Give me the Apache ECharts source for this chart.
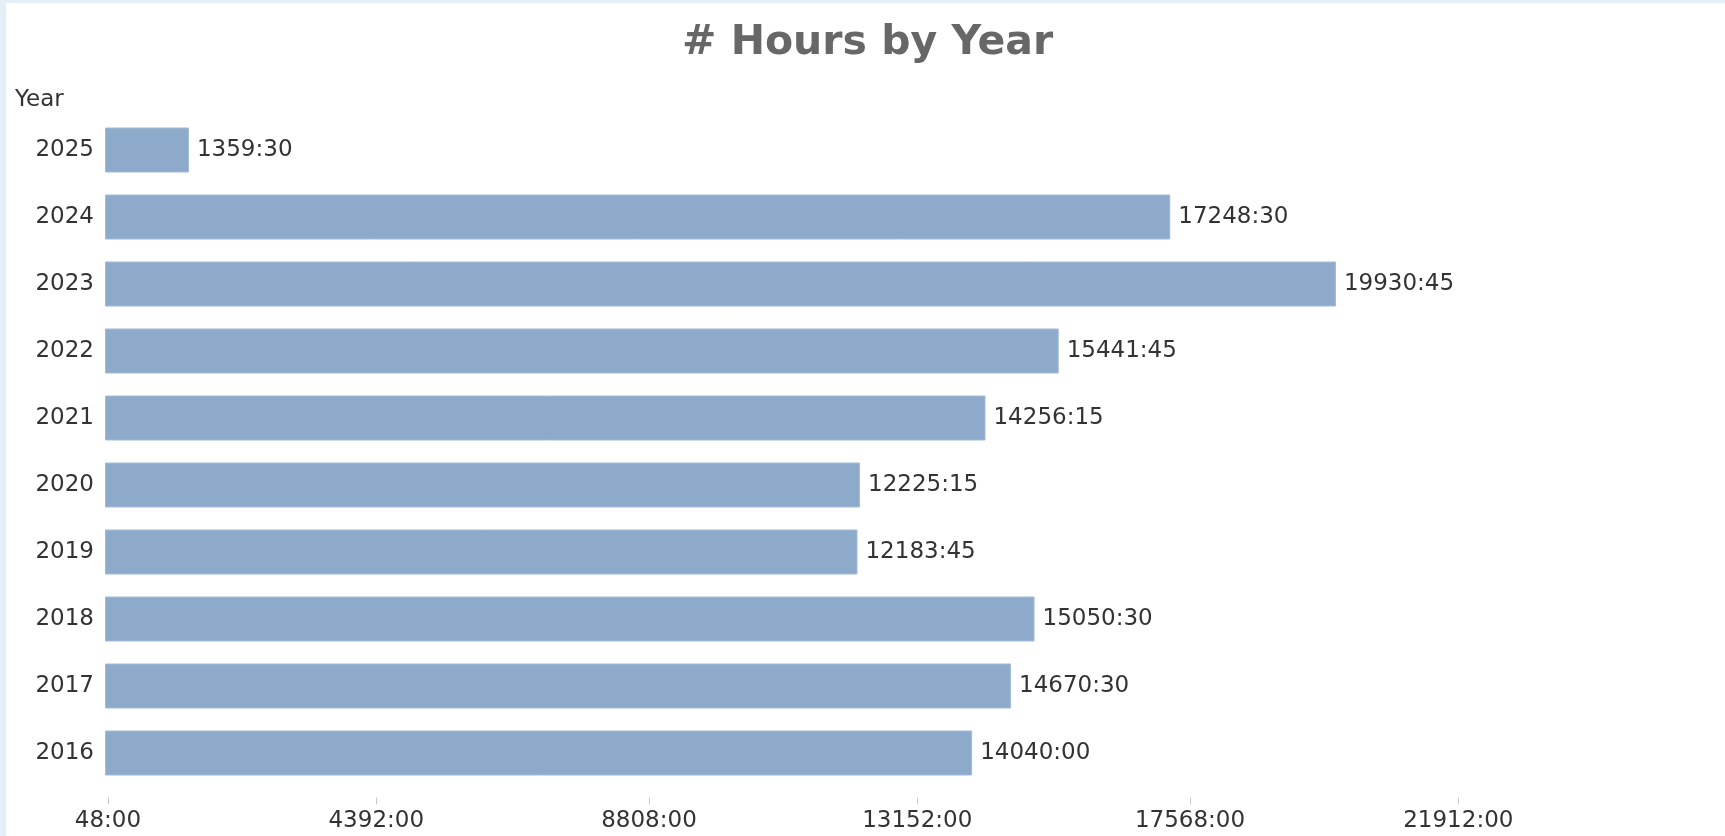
<!DOCTYPE html>
<html>
<head>
<meta charset="utf-8">
<script src="https://cdn.jsdelivr.net/npm/echarts@6/dist/echarts.min.js"></script>
<style>
html,body{margin:0;padding:0;background:#fff;}
#chart{width:1725px;height:836px;}
</style>
</head>
<body>
<div id="chart"></div>
<script>
// Data
const years = ['2016', '2017', '2018', '2019', '2020', '2021', '2022', '2023', '2024', '2025'];
const hours = [14040, 14670.5, 15050.5, 12183.75, 12225.25, 14256.25, 15441.75, 19930.75, 17248.5, 1359.5];
const tickValues = [48, 4392, 8808, 13152, 17568, 21912];

function fmtHours(v) {
  const h = Math.floor(v + 1e-9);
  const m = Math.round((v - h) * 60);
  return h + ':' + (m < 10 ? '0' + m : m);
}

const chart = echarts.init(document.getElementById('chart'), null, {renderer: 'canvas'});
const labelFont = 'DejaVu Sans';
chart.setOption({
  animation: false,
  backgroundColor: '#ffffff',
  graphic: [
    {type: 'rect', left: 0, top: 0, shape: {width: 6, height: 836}, style: {fill: '#e3eef7'}, silent: true},
    {type: 'rect', left: 0, top: 0, shape: {width: 1725, height: 3}, style: {fill: '#e3eef7'}, silent: true}
  ],
  title: [
    {
      text: '# Hours by Year',
      left: 677,
      top: 18,
      textStyle: {fontFamily: labelFont, fontWeight: 'bold', fontSize: 41, color: '#676767'}
    },
    {
      text: 'Year',
      left: 10,
      top: 84,
      textStyle: {fontFamily: labelFont, fontWeight: 'normal', fontSize: 23, color: '#333333'}
    }
  ],
  grid: {left: 105, right: 0, top: 116.5, bottom: 49.5, containLabel: false},
  xAxis: {
    type: 'value',
    min: 0,
    max: 26230,
    offset: 11,
    splitLine: {show: false},
    axisLine: {show: false},
    axisTick: {show: true, customValues: tickValues, length: 7, lineStyle: {color: '#c8c8c8', width: 1}},
    axisLabel: {
      customValues: tickValues,
      formatter: function (v) { return fmtHours(v); },
      margin: 12,
      fontFamily: labelFont,
      fontSize: 23,
      color: '#333333'
    }
  },
  yAxis: {
    type: 'category',
    data: years,
    axisLine: {show: false},
    axisTick: {show: false},
    splitLine: {show: false},
    axisLabel: {margin: 11, fontFamily: labelFont, fontSize: 23, color: '#333333', padding: [5, 0, 0, 0]}
  },
  series: [{
    type: 'bar',
    data: hours,
    barWidth: 45,
    itemStyle: {color: '#8eaacb', borderColor: '#a3bbd6', borderWidth: 1},
    label: {
      show: true,
      position: 'right',
      distance: 8,
      fontFamily: labelFont,
      fontSize: 23,
      color: '#333333',
      padding: [4, 0, 0, 0],
      formatter: function (p) { return fmtHours(p.value); }
    }
  }]
});
</script>
</body>
</html>
